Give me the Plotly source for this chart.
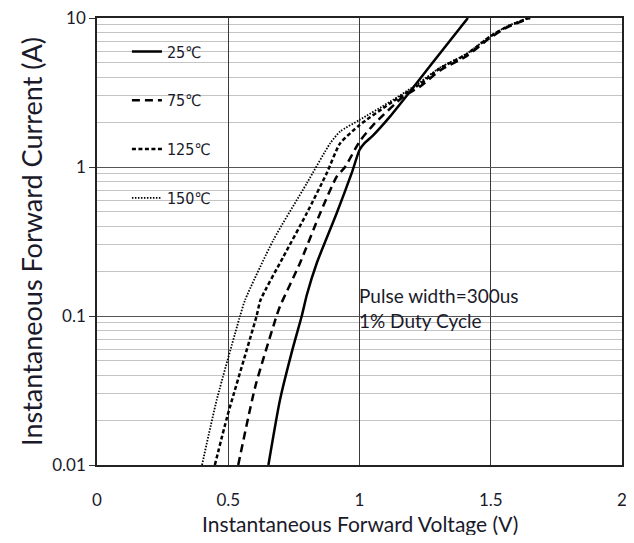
import plotly.graph_objects as go

### DATA ###
v_25 = [0.653, 0.697, 0.745, 0.780, 0.800, 0.837, 0.913, 0.970, 1.000, 1.020, 1.050, 1.116, 1.192, 1.270, 1.413]
i_25 = [0.01, 0.0273, 0.060, 0.100, 0.140, 0.226, 0.489, 0.908, 1.30, 1.45, 1.62, 2.18, 3.20, 4.80, 10.0]

v_75 = [0.538, 0.603, 0.684, 0.697, 0.773, 0.850, 0.913, 0.945, 1.000, 1.052, 1.167, 1.230, 1.307, 1.408, 1.497, 1.560, 1.650]
i_75 = [0.01, 0.0336, 0.100, 0.116, 0.226, 0.489, 0.860, 1.00, 1.48, 1.91, 2.97, 3.46, 4.45, 5.55, 7.35, 8.6, 10.0]

v_125 = [0.449, 0.496, 0.608, 0.623, 0.710, 0.799, 0.875, 0.926, 1.000, 1.116, 1.230, 1.307, 1.408, 1.497, 1.560, 1.645]
i_125 = [0.01, 0.0211, 0.100, 0.128, 0.250, 0.489, 0.908, 1.44, 1.91, 2.67, 3.60, 4.60, 5.70, 7.50, 8.70, 10.0]

v_150 = [0.400, 0.456, 0.545, 0.564, 0.672, 0.799, 0.888, 0.926, 1.000, 1.116, 1.230, 1.307, 1.408, 1.497, 1.560, 1.640]
i_150 = [0.01, 0.0273, 0.100, 0.128, 0.324, 0.776, 1.44, 1.73, 2.07, 2.74, 3.70, 4.65, 5.75, 7.55, 8.75, 10.0]

x_ticks = [0, 0.5, 1, 1.5, 2]
x_tick_text = ["0", "0.5", "1", "1.5", "2"]
y_ticks = [0.01, 0.1, 1, 10]
y_tick_text = ["0.01", "0.1", "1", "10"]
y_minor = [m * d for d in (0.01, 0.1, 1) for m in range(2, 10)]

series = [
    ("25℃", v_25, i_25, "solid", 2.5),
    ("75℃", v_75, i_75, "8px,5px", 2.5),
    ("125℃", v_125, i_125, "4px,2.5px", 2.5),
    ("150℃", v_150, i_150, "1.5px,1.5px", 1.8),
]

FONT = "Lato, 'Open Sans', sans-serif"
LEG_FONT = "'Liberation Sans Narrow', 'DejaVu Sans Condensed', 'DejaVu Sans', sans-serif"
TXT = "#1a1a2a"

fig = go.Figure()

for k, (name, v, i, dash, w) in enumerate(series):
    fig.add_trace(go.Scatter(
        x=v, y=i, mode="lines", name=name, legendgroup=str(k),
        line=dict(color="black", width=w, dash=dash, shape="spline", smoothing=0.6),
    ))

# white boxes behind legend and note (cover gridlines, not traces)
fig.add_shape(type="rect", xref="paper", yref="paper", x0=0.015, x1=0.255, y0=0.564, y1=0.995,
              fillcolor="white", line=dict(width=0), layer="between")
fig.add_shape(type="rect", xref="paper", yref="paper", x0=0.4686, x1=0.8876, y0=0.2774, y1=0.4385,
              fillcolor="white", line=dict(width=0), layer="between")

fig.add_annotation(xref="paper", yref="paper", x=0.495, y=0.352, xanchor="left", yanchor="middle",
                   text="Pulse width=300us<br>1% Duty Cycle", align="left", showarrow=False,
                   font=dict(family=FONT, size=19, color=TXT))

# x axis title placed by hand so it sits close under the tick labels
fig.add_annotation(xref="paper", yref="paper", x=0.5, y=-0.13, xanchor="center", yanchor="middle",
                   text="Instantaneous Forward Voltage (V)", showarrow=False,
                   font=dict(family=FONT, size=21, color=TXT))

# page body has an 8px margin, so the figure is sized to fit inside the window
fig.update_layout(
    width=618, height=527,
    margin=dict(l=89, r=4, t=10, b=70),
    paper_bgcolor="white", plot_bgcolor="white",
    font=dict(family=FONT, color=TXT),
    showlegend=True,
    legend=dict(x=0.057, y=0.963, xanchor="left", yanchor="top", bgcolor="rgba(0,0,0,0)",
                tracegroupgap=25, font=dict(family=LEG_FONT, size=16, color=TXT),
                itemwidth=30),
)

fig.update_xaxes(
    range=[0, 2], tickvals=x_ticks, ticktext=x_tick_text,
    showgrid=True, gridcolor="#3a3a3a", gridwidth=1,
    showline=True, linecolor="#222", linewidth=1.5, mirror=True,
    ticks="", ticklabelstandoff=19, zeroline=False, automargin=False,
    ticklabeloverflow="allow", tickfont=dict(size=17),
)
fig.update_yaxes(
    type="log", range=[-2, 1], tickvals=y_ticks, ticktext=y_tick_text,
    showgrid=True, gridcolor="#555555", gridwidth=1,
    minor=dict(tickvals=y_minor, showgrid=True, gridcolor="#c4c4c4", gridwidth=1, ticks=""),
    showline=True, linecolor="#222", linewidth=1.5, mirror=True,
    ticks="outside", ticklen=6, tickcolor="#333", automargin=False,
    ticklabeloverflow="allow", tickfont=dict(size=17),
    title=dict(text="Instantaneous Forward Current (A)", font=dict(size=27), standoff=2),
)

fig.write_html("out.html")
